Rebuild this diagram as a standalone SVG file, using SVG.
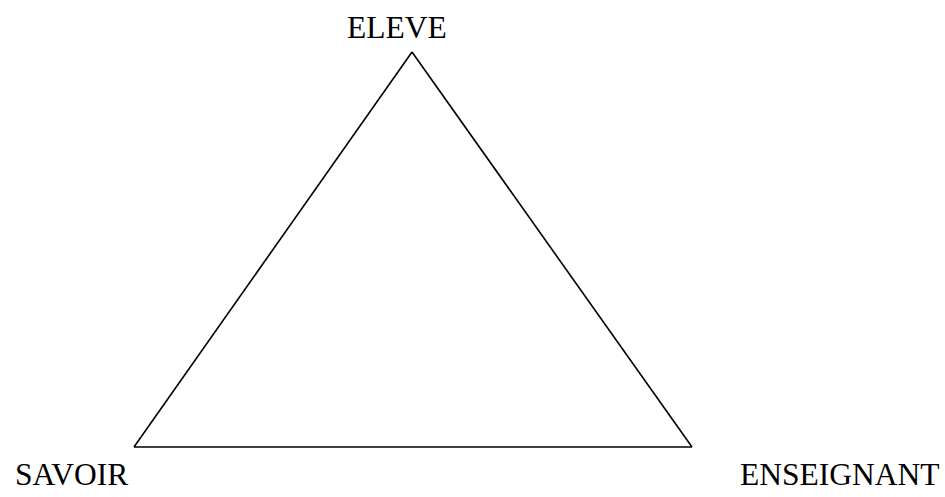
<svg xmlns="http://www.w3.org/2000/svg" width="945" height="497" viewBox="0 0 945 497">
<style>
.lbl{font-family:"Liberation Serif","Times New Roman",serif;font-size:31.5px;fill:#000}
.edge{fill:none;stroke:#000;stroke-width:1.6;stroke-linejoin:miter}
</style>
<rect width="945" height="497" fill="#fff"/>
<g id="connectors">
<line class="edge" x1="412" y1="52" x2="134" y2="447"/>
<line class="edge" x1="412" y1="52" x2="692" y2="447"/>
<line class="edge" x1="134" y1="447" x2="692" y2="447"/>
</g>
<g id="eleve"><text class="lbl" x="347" y="38">ELEVE</text></g>
<g id="savoir"><text class="lbl" x="15" y="485">SAVOIR</text></g>
<g id="enseignant"><text class="lbl" x="740" y="485">ENSEIGNANT</text></g>
</svg>
